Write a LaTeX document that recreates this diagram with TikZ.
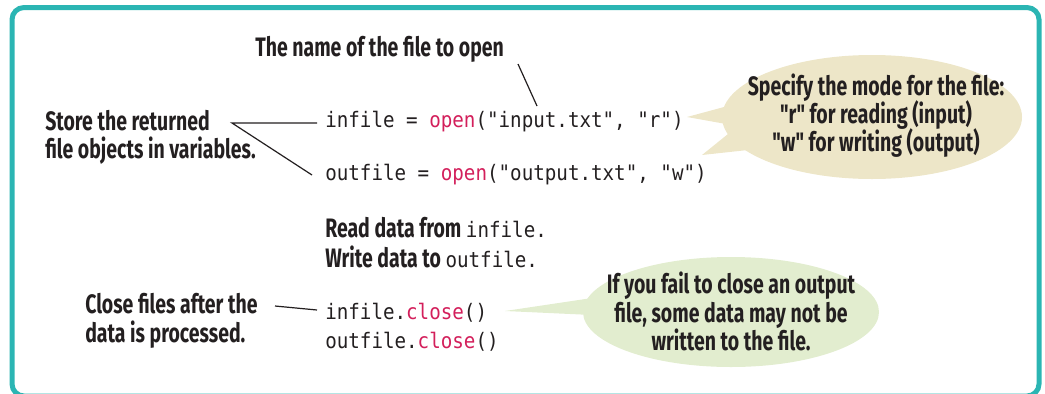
\documentclass[tikz,border=0pt]{standalone}
\usepackage{fontspec}
\setmonofont[FakeStretch=0.9]{DejaVu Sans Mono}
\newfontfamily\hand[FakeStretch=0.73,Ligatures=TeXOff]{Fira Sans}
\definecolor{framecol}{HTML}{2BB5B3}
\definecolor{beige}{HTML}{EDE6C8}
\definecolor{bubgreen}{HTML}{E2EDCF}
\definecolor{codered}{HTML}{D31F5B}
\definecolor{ink}{HTML}{231F20}
\begin{document}
\begin{tikzpicture}[x=0.75pt,y=-0.75pt,
 hand/.style={font=\hand\bfseries\fontsize{20}{21}\selectfont, text=ink, inner sep=0pt, anchor=base west},
 handc/.style={hand, anchor=base},
 code/.style={font=\ttfamily\fontsize{16}{20}\selectfont, text=ink, inner sep=0pt, anchor=base west},
 pointer/.style={draw=ink, line width=0.9pt}]
\useasboundingbox (0,0) rectangle (1045,393);
\draw[framecol, line width=3.75pt, rounded corners=9pt] (12,7.5) rectangle (1039,396);
% bubbles
\fill[beige] (872,117) ellipse [x radius=150, y radius=62];
\fill[beige] (724,107) -- (687,117) -- (726,124) -- (728,134) -- (702,155) -- (748,150) -- cycle;
\fill[bubgreen] (731,312) ellipse [x radius=148, y radius=55];
\fill[bubgreen] (592,298) -- (505,311) -- (592,315) -- cycle;
% texts
\node[hand] (title) at (255,56) {The name of the file to open};
\node[hand] (store1) at (45,130) {Store the returned};
\node[hand] (store2) at (45,158) {file objects in variables.};
\node[code] (in) at (325,127) {infile = {\color{codered}open}("input.txt", "r")};
\node[code] (out) at (325,180) {outfile = {\color{codered}open}("output.txt", "w")};
\node[hand] (rd) at (325,237) {Read data from {\ttfamily\mdseries\fontsize{16}{20}\selectfont infile.}};
\node[hand] (wr) at (325,267) {Write data to {\ttfamily\mdseries\fontsize{16}{20}\selectfont outfile.}};
\node[hand] (cl1) at (85,313) {Close files after the};
\node[hand] (cl2) at (85,342) {data is processed.};
\node[code] (inc) at (325,319) {infile.{\color{codered}close}()};
\node[code] (outc) at (325,348) {outfile.{\color{codered}close}()};
\node[handc] (m1) at (876,95) {Specify the mode for the file:};
\node[handc] (m2) at (876,123) {"r" for reading (input)};
\node[handc] (m3) at (876,151) {"w" for writing (output)};
\node[handc] (f1) at (731,293) {If you fail to close an output};
\node[handc] (f2) at (731,322) {file, some data may not be};
\node[handc] (f3) at (731,350) {written to the file.};
% pointers
\coordinate (tA) at (518,64);
\coordinate (tB) at (537,106);
\draw[pointer] (tA) -- (tB);
\coordinate (sA) at (232,123);
\coordinate (sB) at (317,123);
\coordinate (sC) at (312,175);
\draw[pointer] (sB) -- (sA) -- (sC);
\coordinate (cA) at (275,306);
\coordinate (cB) at (317,310);
\draw[pointer] (cA) -- (cB);
\end{tikzpicture}
\end{document}
